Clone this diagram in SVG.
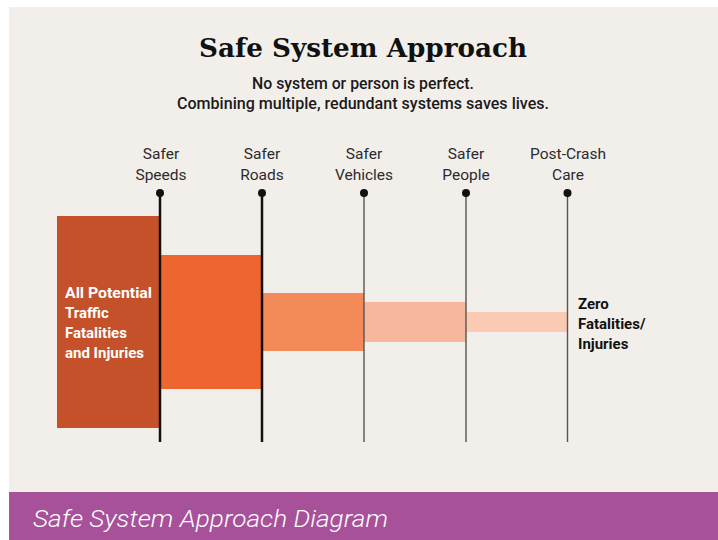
<svg xmlns="http://www.w3.org/2000/svg" width="718" height="540" viewBox="0 0 718 540">
<style>
.lbl{font-family:Roboto,"Liberation Sans",sans-serif;font-size:15.5px;fill:#2b2b2b;text-anchor:middle}
.sub{font-family:Roboto,"Liberation Sans",sans-serif;font-size:16px;font-weight:500;fill:#1a1a1a;text-anchor:middle}
.wt{font-family:Roboto,"Liberation Sans",sans-serif;font-size:15px;font-weight:bold;fill:#ffffff}
.bk{font-family:Roboto,"Liberation Sans",sans-serif;font-size:15px;font-weight:bold;fill:#111111}
.thick{stroke:#111;stroke-width:2.5}
.thin{stroke:#555;stroke-width:1.4}
</style>
<rect x="0" y="0" width="718" height="540" fill="#ffffff"/>
<rect x="9" y="7" width="709" height="485" fill="#f2efeb"/>
<rect x="9" y="492" width="709" height="48" fill="#a6519a"/>
<text x="33" y="527" font-family="Roboto,'Liberation Sans',sans-serif" font-size="23" font-style="italic" font-weight="300" fill="#ffffff" textLength="355" lengthAdjust="spacingAndGlyphs">Safe System Approach Diagram</text>

<text x="363" y="57" font-family="'DejaVu Serif','Liberation Serif',serif" font-size="26" font-weight="bold" fill="#111" text-anchor="middle" textLength="328" lengthAdjust="spacingAndGlyphs">Safe System Approach</text>
<text class="sub" x="363" y="89" textLength="222" lengthAdjust="spacingAndGlyphs">No system or person is perfect.</text>
<text class="sub" x="363" y="109" textLength="372" lengthAdjust="spacingAndGlyphs">Combining multiple, redundant systems saves lives.</text>

<g id="bars">
<rect id="bar1" x="57" y="216" width="103" height="212" fill="#c4512a"/>
<rect id="bar2" x="160" y="255" width="102" height="134" fill="#ef6530"/>
<rect id="bar3" x="262" y="293" width="102" height="58" fill="#f4895a"/>
<rect id="bar4" x="364" y="302" width="102" height="40" fill="#f8b69c"/>
<rect id="bar5" x="466" y="312" width="101" height="20" fill="#fbcab3"/>
</g>

<g id="connectors">
<line class="thick" x1="160" y1="193" x2="160" y2="442"/>
<line class="thick" x1="262" y1="193" x2="262" y2="442"/>
<line class="thin" x1="364" y1="193" x2="364" y2="442"/>
<line class="thin" x1="466" y1="193" x2="466" y2="442"/>
<line class="thin" x1="567.5" y1="193" x2="567.5" y2="442"/>
<circle cx="160" cy="193" r="4" fill="#111"/>
<circle cx="262" cy="193" r="4" fill="#111"/>
<circle cx="364" cy="193" r="4" fill="#111"/>
<circle cx="466" cy="193" r="4" fill="#111"/>
<circle cx="567.5" cy="193" r="4" fill="#111"/>
</g>

<g id="n-speeds"><text class="lbl" x="161" y="159">Safer</text><text class="lbl" x="161" y="180">Speeds</text></g>
<g id="n-roads"><text class="lbl" x="262" y="159">Safer</text><text class="lbl" x="262" y="180">Roads</text></g>
<g id="n-vehicles"><text class="lbl" x="364" y="159">Safer</text><text class="lbl" x="364" y="180">Vehicles</text></g>
<g id="n-people"><text class="lbl" x="466" y="159">Safer</text><text class="lbl" x="466" y="180">People</text></g>
<g id="n-care"><text class="lbl" x="568" y="159">Post-Crash</text><text class="lbl" x="568" y="180">Care</text></g>

<g id="n-all">
<text class="wt" x="65" y="298" textLength="87" lengthAdjust="spacingAndGlyphs">All Potential</text>
<text class="wt" x="65" y="318">Traffic</text>
<text class="wt" x="65" y="338">Fatalities</text>
<text class="wt" x="65" y="358">and Injuries</text>
</g>
<g id="n-zero">
<text class="bk" x="578" y="309">Zero</text>
<text class="bk" x="578" y="329">Fatalities/</text>
<text class="bk" x="578" y="349">Injuries</text>
</g>
</svg>
